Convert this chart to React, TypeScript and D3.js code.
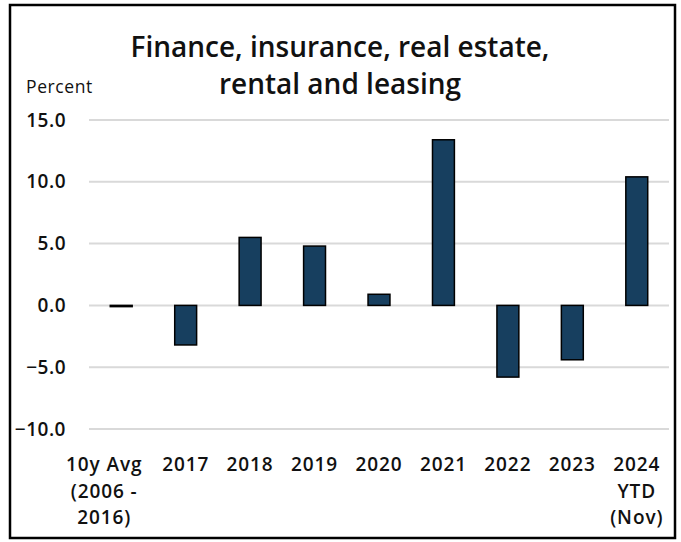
import React from "react";
import * as d3 from "d3";

const categories = ["10y Avg", "2017", "2018", "2019", "2020", "2021", "2022", "2023", "2024"];
const categoryLabels: string[][] = [
  ["10y Avg", "(2006 -", "2016)"],
  ["2017"],
  ["2018"],
  ["2019"],
  ["2020"],
  ["2021"],
  ["2022"],
  ["2023"],
  ["2024", "YTD", "(Nov)"],
];
const values = [-0.1, -3.2, 5.5, 4.8, 0.9, 13.4, -5.8, -4.4, 10.4];
const yTicks = [15, 10, 5, 0, -5, -10];
const titleLines = ["Finance, insurance, real estate,", "rental and leasing"];

const W = 681;
const H = 542;
const plotLeft = 89;
const plotRight = 669;

export default function App() {
  const x = d3.scaleBand<string>().domain(categories).range([plotLeft, plotRight]).paddingInner(0.66).paddingOuter(0.33);
  const y = d3.scaleLinear().domain([-10, 15]).range([429, 120]);
  const font = "'Open Sans', Lato, sans-serif";
  const labelOffsets: Record<string, number> = { "10y Avg": -17 };
  return (
    <svg width={W} height={H} style={{ position: "absolute", left: 0, top: 0, background: "#fff" }}>
      <rect x={10} y={5} width={665} height={533} fill="#fff" stroke="#000" strokeWidth={2.5} />
      {titleLines.map((t, i) => (
        <text key={t} x={340} y={57 + i * 36.5} textAnchor="middle" fontFamily={font} fontWeight={600} fontSize={28} fill="#111">
          {t}
        </text>
      ))}
      <text x={26} y={93} fontFamily={font} fontSize={17.5} fontWeight={500} letterSpacing={0.6} fill="#111">Percent</text>
      {yTicks.map((t) => (
        <g key={t}>
          <line x1={plotLeft} x2={plotRight} y1={y(t)} y2={y(t)} stroke="#d9d9d9" strokeWidth={2} />
          <text x={66} y={y(t) + 6.5} textAnchor="end" fontFamily={font} fontWeight={600} fontSize={19} letterSpacing={0.5} fill="#111">
            {d3.format(".1f")(t)}
          </text>
        </g>
      ))}
      {categories.map((c, i) => {
        const v = values[i];
        const y0 = y(0);
        const y1 = y(v);
        return (
          <rect
            key={c}
            x={x(c)!}
            y={Math.min(y0, y1)}
            width={x.bandwidth()}
            height={Math.max(Math.abs(y1 - y0), 1)}
            fill="#173f5f"
            stroke="#000"
            strokeWidth={1.5}
          />
        );
      })}
      {categories.map((c, i) => (
        <text key={c} textAnchor="middle" fontFamily={font} fontWeight={600} fontSize={19} letterSpacing={0.9} fill="#111">
          {categoryLabels[i].map((l, j) => (
            <tspan key={j} x={x(c)! + x.bandwidth() / 2 + (labelOffsets[c] || 0)} y={471 + j * 26.5}>
              {l}
            </tspan>
          ))}
        </text>
      ))}
    </svg>
  );
}
